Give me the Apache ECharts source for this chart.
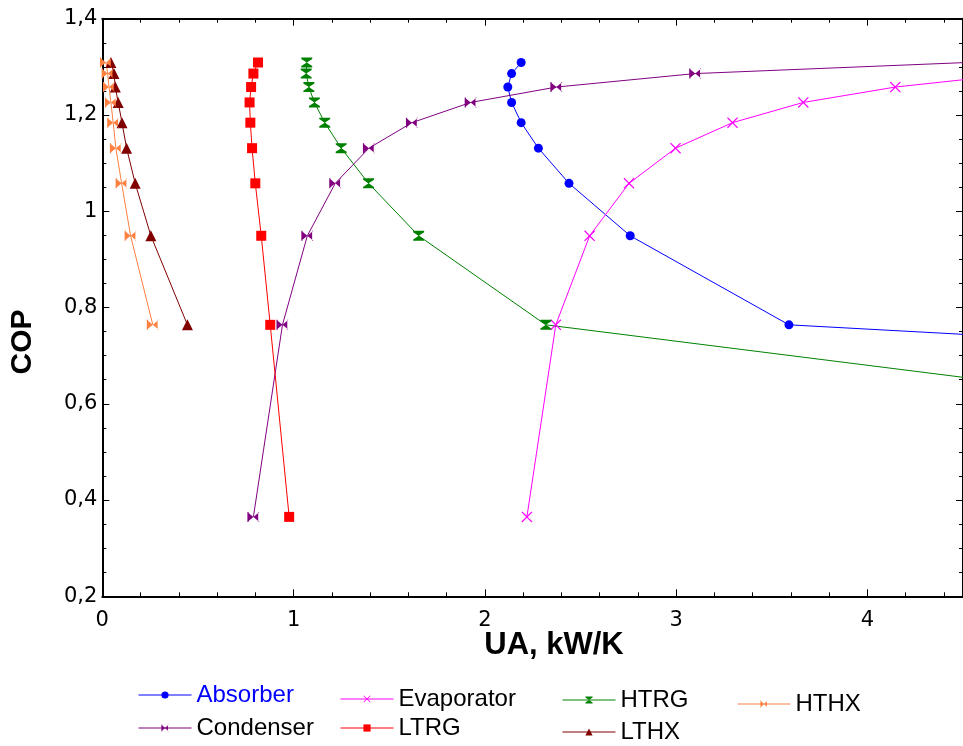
<!DOCTYPE html>
<html>
<head>
<meta charset="utf-8">
<title>COP vs UA</title>
<script src="https://cdn.jsdelivr.net/npm/echarts@6/dist/echarts.min.js"></script>
<style>
  html, body { margin: 0; padding: 0; background: #fff; }
  #chart { width: 963px; height: 746px; }
</style>
</head>
<body>
<div id="chart"></div>
<script>
// COP levels shared by every component curve (top of the chart to the bottom)
const copLevels = [1.309, 1.286, 1.258, 1.226, 1.184, 1.131, 1.058, 0.949, 0.764, 0.365];

// Heat-exchanger conductance UA (kW/K) of each component at those COP levels
const absorberUA   = [2.19, 2.14, 2.12, 2.14, 2.19, 2.28, 2.44, 2.76, 3.59, 22.0];
const evaporatorUA = [5.6, 4.8, 4.146, 3.665, 3.295, 2.997, 2.754, 2.548, 2.371, 2.22];
const htrgUA       = [1.069, 1.066, 1.080, 1.109, 1.163, 1.249, 1.392, 1.654, 2.319, 10.3];
const condenserUA  = [4.52, 3.10, 2.374, 1.926, 1.619, 1.394, 1.218, 1.072, 0.942, 0.790];
const ltrgUA       = [0.814, 0.790, 0.778, 0.770, 0.774, 0.783, 0.800, 0.831, 0.878, 0.977];
const lthxUA       = [0.045, 0.061, 0.068, 0.083, 0.103, 0.127, 0.172, 0.254, 0.445];
const hthxUA       = [0.019, 0.028, 0.035, 0.045, 0.057, 0.071, 0.101, 0.148, 0.264];

// Axis ranges and tick steps
const xRange = [0, 4.5], xStep = 1;
const yRange = [0.2, 1.4], yStep = 0.2;

const FONT = 'Liberation Sans, Arial, sans-serif';
const TICK_FONT = 'DejaVu Sans, Liberation Sans, sans-serif';

// Marker shapes
const BOWTIE_H = 'path://M0,0L5,4L0,8ZM10,0L5,4L10,8ZM0,0H1V8H0ZM9,0H10V8H9Z';
const BOWTIE_V = 'path://M0,0H10V1.4L5,5L0,1.4ZM0,10H10V8.6L5,5L0,8.6Z';
const CROSS = 'path://M0,0.8L0.8,0L5,4.2L9.2,0L10,0.8L5.8,5L10,9.2L9.2,10L5,5.8L0.8,10L0,9.2L4.2,5Z';

function pairs(ua) {
  return ua.map((u, i) => [u, copLevels[i]]);
}

function curve(name, ua, color, symbol, size) {
  return {
    name: name,
    type: 'line',
    data: pairs(ua),
    symbol: symbol,
    symbolSize: size,
    showSymbol: true,
    clip: true,
    lineStyle: { color: color, width: 1 },
    itemStyle: { color: color },
    emphasis: { disabled: true },
    animation: false
  };
}

function legendAt(name, left, cy, color) {
  return {
    data: [{ name: name, textStyle: { color: color } }],
    left: left,
    top: cy - 12,
    padding: 0,
    orient: 'horizontal',
    itemWidth: 53,
    itemHeight: 9,
    itemGap: 0,
    selectedMode: false,
    lineStyle: { width: 1 },
    textStyle: { fontSize: 24, fontFamily: FONT, color: '#000' }
  };
}

const tickCommon = { inside: true, length: 7, lineStyle: { color: '#000', width: 1 } };
const minorCommon = { length: 4, lineStyle: { color: '#000', width: 1 } };
const lineCommon = { onZero: false, lineStyle: { color: '#000', width: 2 } };

function fmtComma(v) {
  const r = Math.round(v * 10) / 10;
  return String(r).replace('.', ',');
}

const chart = echarts.init(document.getElementById('chart'), null, { renderer: 'canvas' });

chart.setOption({
  animation: false,
  backgroundColor: '#fff',
  grid: { left: 102.3, top: 18.7, width: 864.5, height: 577.6, containLabel: false },
  xAxis: [
    {
      type: 'value', position: 'bottom', min: xRange[0], max: xRange[1], interval: xStep,
      axisLine: lineCommon,
      axisTick: tickCommon,
      minorTick: Object.assign({ show: true, splitNumber: 5 }, minorCommon),
      splitLine: { show: false }, minorSplitLine: { show: false },
      axisLabel: { fontSize: 21, fontFamily: TICK_FONT, color: '#000', margin: 14, showMaxLabel: false,
                   formatter: fmtComma }
    },
    {
      type: 'value', position: 'top', min: xRange[0], max: xRange[1], interval: xStep,
      axisLine: lineCommon,
      axisTick: tickCommon,
      minorTick: Object.assign({ show: true, splitNumber: 5 }, minorCommon),
      splitLine: { show: false }, axisLabel: { show: false }
    }
  ],
  yAxis: [
    {
      type: 'value', position: 'left', min: yRange[0], max: yRange[1], interval: yStep,
      axisLine: lineCommon,
      axisTick: tickCommon,
      minorTick: Object.assign({ show: true, splitNumber: 4 }, minorCommon),
      splitLine: { show: false }, minorSplitLine: { show: false },
      axisLabel: { fontSize: 21, fontFamily: TICK_FONT, color: '#000', margin: 5, formatter: fmtComma }
    },
    {
      type: 'value', position: 'right', min: yRange[0], max: yRange[1], interval: yStep,
      axisLine: lineCommon,
      axisTick: tickCommon,
      minorTick: Object.assign({ show: true, splitNumber: 4 }, minorCommon),
      splitLine: { show: false }, axisLabel: { show: false }
    }
  ],
  legend: [
    legendAt('Absorber', 138, 695, '#0000ff'),
    legendAt('Condenser', 138, 728, '#000'),
    legendAt('Evaporator', 340, 699, '#000'),
    legendAt('LTRG', 340, 728, '#000'),
    legendAt('HTRG', 562, 700, '#000'),
    legendAt('LTHX', 562, 732, '#000'),
    legendAt('HTHX', 737, 704, '#000')
  ],
  graphic: [
    {
      type: 'text', x: 554, y: 645,
      style: { text: 'UA, kW/K', font: 'bold 31px ' + FONT, fill: '#000',
               align: 'center', verticalAlign: 'middle', textAlign: 'center', textVerticalAlign: 'middle' }
    },
    {
      type: 'text', x: 23, y: 342, rotation: Math.PI / 2,
      style: { text: 'COP', font: 'bold 30px ' + FONT, fill: '#000',
               align: 'center', verticalAlign: 'middle', textAlign: 'center', textVerticalAlign: 'middle' }
    }
  ],
  series: [
    curve('Absorber', absorberUA, '#0000ff', 'circle', 9),
    curve('Evaporator', evaporatorUA, '#ff00ff', CROSS, 11),
    curve('HTRG', htrgUA, '#008000', BOWTIE_V, [11, 10]),
    curve('Condenser', condenserUA, '#800080', BOWTIE_H, [12, 10]),
    curve('LTRG', ltrgUA, '#ff0000', 'rect', 10),
    curve('LTHX', lthxUA, '#800000', 'triangle', 11),
    curve('HTHX', hthxUA, '#ff8040', BOWTIE_H, [12, 10])
  ]
});
</script>
</body>
</html>
